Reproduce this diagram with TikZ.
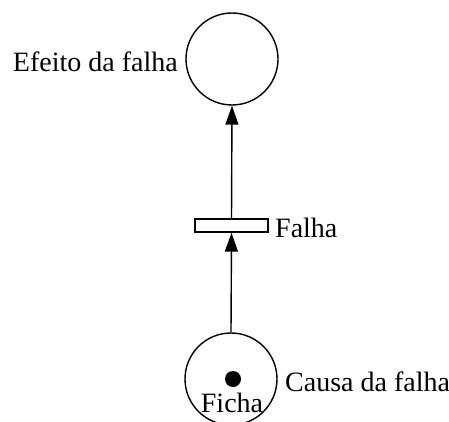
\documentclass[tikz,border=0pt]{standalone}
\usepackage{fontspec}
\setmainfont{Liberation Serif}
\usetikzlibrary{arrows.meta}
\begin{document}
\begin{tikzpicture}[x=1pt,y=1pt,
  place/.style={draw, circle, line width=1.4pt, minimum size=92pt, inner sep=0pt},
  transbox/.style={draw, rectangle, line width=1.4pt, minimum width=73pt, minimum height=13pt, inner sep=0pt},
  token/.style={fill=black, circle, minimum size=16pt, inner sep=0pt},
  lbl/.style={font=\fontsize{28}{30}\selectfont, inner sep=0pt},
  arc/.style={line width=1.4pt, -{Triangle[length=19pt,width=13pt]}}]
\useasboundingbox (0,0) rectangle (449,421);
% places and transition
\node[place] (effect) at (232,362) {};
\node[transbox] (fail) at (231.5,195.5) {};
\node[place] (cause) at (231,42) {};
\node[token] (tok) at (233,42) {};
% labels
\node[lbl, anchor=east] (effectlbl) at (178,359) {Efeito da falha};
\node[lbl, anchor=west] (faillbl) at (275,193) {Falha};
\node[lbl, anchor=west] (causelbl) at (285,39) {Causa da falha};
\node[lbl] (tokenlbl) at (232,18) {Ficha};
% arcs
\draw[arc] (cause.north) -- (fail.south);
\draw[arc] (fail.north) -- (effect.south);
\end{tikzpicture}
\end{document}
